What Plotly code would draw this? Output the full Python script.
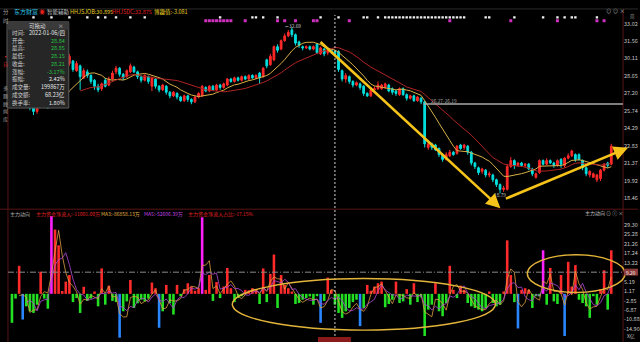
import plotly.graph_objects as go
import pandas as pd

W, H = 640, 342
def px(x): return x / W
def py(y): return 1 - y / H

# ---------------- data ----------------
opens = [27.2, 26.9, 26.6, 27.0, 27.4, 27.0, 26.2, 25.7, 26.2, 26.6,
         26.3, 26.1, 26.4, 27.0, 27.7, 28.4, 29.7, 29.9, 29.1, 29.5,
         28.5, 29.0, 28.7, 28.3, 27.8, 27.6, 28.3, 27.9, 28.4, 29.0,
         29.3, 28.8, 28.6, 29.0, 29.4, 29.0, 28.6, 28.3, 28.6, 27.8,
         28.4, 27.8, 27.5, 27.8, 27.3, 27.0, 27.2, 26.9, 26.6, 27.0,
         26.7, 26.5, 26.9, 27.0, 27.7, 27.4, 27.8, 27.5, 27.9, 27.7,
         27.9, 28.4, 28.2, 28.5, 28.3, 28.6, 28.4, 28.7, 28.5, 28.9,
         28.6, 30.0, 29.6, 30.0, 31.1, 30.9, 31.6, 32.0, 32.5, 32.1,
         31.5, 31.1, 31.0, 31.1, 30.9, 31.3, 30.5, 30.9, 30.6, 30.8,
         30.7, 30.7, 29.1, 28.4, 28.6, 28.2, 27.9, 28.0, 27.8, 27.2,
         27.0, 27.5, 27.6, 27.6, 27.7, 27.9, 27.6, 27.4, 27.1, 27.6,
         27.1, 26.8, 27.0, 26.6, 26.8, 26.5, 22.7, 23.0, 22.9, 22.6,
         22.1, 21.7, 22.0, 22.3, 22.2, 22.9, 22.7, 22.8, 22.3, 21.4,
         21.0, 20.7, 20.8, 20.4, 20.4, 20.0, 19.6, 19.2, 19.2, 21.1,
         21.6, 21.2, 21.4, 21.2, 21.3, 20.9, 20.2, 20.6, 21.6, 21.3,
         21.6, 21.4, 21.2, 21.7, 21.2, 21.8, 22.0, 22.1, 22.1, 21.6,
         21.0, 20.4, 20.2, 20.0, 20.1, 20.8, 21.4, 21.3]
closes = [26.9, 26.6, 26.8, 27.3, 27.1, 26.2, 25.7, 26.2, 26.6, 26.3,
          26.1, 26.4, 27.0, 27.7, 28.4, 29.1, 30.3, 29.2, 29.7, 28.6,
          29.1, 28.7, 28.2, 27.8, 27.5, 28.0, 27.8, 28.4, 28.9, 29.3,
          28.8, 28.5, 29.1, 29.5, 29.0, 28.6, 28.3, 28.7, 28.2, 28.5,
          27.8, 27.5, 27.9, 27.3, 27.0, 27.3, 26.9, 26.6, 27.0, 26.7,
          26.5, 26.9, 27.2, 27.8, 27.4, 27.8, 27.5, 27.9, 27.7, 28.0,
          28.4, 28.2, 28.5, 28.3, 28.6, 28.4, 28.7, 28.5, 28.7, 28.5,
          29.3, 29.5, 30.3, 31.1, 30.8, 31.6, 32.0, 32.3, 32.1, 31.4,
          31.2, 31.0, 31.1, 30.9, 31.1, 30.6, 31.0, 30.5, 30.8, 30.7,
          30.5, 29.2, 28.4, 28.7, 28.2, 27.9, 28.1, 27.7, 27.2, 27.0,
          27.5, 27.6, 27.9, 27.9, 28.0, 27.4, 27.3, 27.2, 27.6, 27.1,
          26.8, 27.0, 26.6, 26.9, 26.5, 23.0, 23.0, 22.7, 22.5, 22.1,
          21.7, 22.1, 22.3, 22.1, 22.8, 22.6, 22.9, 22.3, 21.4, 21.1,
          20.6, 20.9, 20.4, 20.5, 20.0, 19.6, 19.2, 19.3, 21.1, 21.6,
          21.2, 21.4, 21.2, 21.3, 20.9, 20.5, 20.5, 21.6, 21.3, 21.6,
          21.4, 21.2, 21.6, 21.3, 21.8, 22.0, 22.4, 21.7, 21.7, 21.0,
          20.5, 20.7, 20.5, 20.4, 20.8, 21.3, 21.2, 22.8]
highs = [27.3, 27.0, 26.9, 27.4, 27.5, 27.1, 26.4, 26.3, 26.8, 26.7,
         26.4, 26.5, 27.1, 27.8, 28.6, 29.3, 30.5, 30.0, 29.9, 29.6,
         29.3, 29.2, 28.8, 28.4, 28.0, 28.1, 28.5, 28.6, 29.1, 29.5,
         29.4, 28.9, 29.2, 29.7, 29.5, 29.1, 28.7, 28.8, 28.7, 28.6,
         28.5, 27.9, 28.0, 27.9, 27.4, 27.4, 27.3, 27.0, 27.1, 27.1,
         26.8, 27.0, 27.3, 27.9, 27.8, 27.9, 27.9, 28.0, 28.0, 28.1,
         28.5, 28.5, 28.6, 28.6, 28.7, 28.7, 28.8, 28.8, 28.8, 29.0,
         29.4, 30.1, 30.5, 31.2, 31.3, 31.7, 32.2, 32.5, 32.69, 32.2,
         31.6, 31.2, 31.2, 31.2, 31.2, 31.4, 31.1, 31.0, 30.9, 30.9,
         30.8, 30.8, 29.2, 28.9, 28.7, 28.3, 28.2, 28.1, 27.9, 27.3,
         27.6, 27.8, 28.2, 28.0, 28.1, 28.0, 27.7, 27.5, 27.7, 27.7,
         27.2, 27.1, 27.1, 27.0, 26.9, 26.6, 23.2, 23.1, 23.0, 22.7,
         22.2, 22.3, 22.5, 22.4, 22.9, 23.0, 23.0, 22.9, 22.4, 21.5,
         21.1, 21.0, 20.9, 20.7, 20.5, 20.1, 19.7, 19.5, 21.3, 21.9,
         21.7, 21.5, 21.5, 21.4, 21.4, 21.0, 20.6, 21.7, 21.7, 21.8,
         21.7, 21.5, 21.7, 21.8, 21.9, 22.2, 22.5, 22.2, 22.2, 21.7,
         21.1, 20.8, 20.6, 20.5, 20.9, 21.4, 21.5, 23.0]
lows = [26.7, 26.4, 26.5, 26.9, 27.0, 25.8, 25.4, 25.5, 26.0, 26.1,
        25.9, 26.0, 26.3, 26.9, 27.6, 28.3, 29.5, 29.0, 29.0, 27.5,
        28.4, 28.5, 28.0, 27.5, 27.3, 27.4, 27.7, 27.8, 28.3, 28.8,
        28.6, 28.3, 28.5, 28.9, 28.9, 28.4, 28.1, 28.2, 28.0, 27.4,
        27.6, 27.3, 27.4, 27.1, 26.8, 26.9, 26.7, 26.5, 26.5, 26.5,
        26.3, 26.4, 26.8, 26.9, 27.3, 27.3, 27.4, 27.4, 27.5, 27.6,
        27.8, 28.1, 28.1, 28.2, 28.2, 28.3, 28.3, 28.4, 28.4, 28.0,
        28.5, 29.3, 29.5, 29.9, 30.6, 30.8, 31.5, 31.9, 31.9, 31.2,
        31.0, 30.8, 30.9, 30.8, 30.8, 30.5, 30.4, 30.3, 30.4, 30.5,
        30.3, 29.0, 28.2, 28.1, 28.0, 27.7, 27.8, 27.5, 27.0, 26.9,
        26.9, 27.4, 27.5, 27.5, 27.6, 27.3, 27.1, 27.0, 27.0, 27.0,
        26.6, 26.7, 26.5, 26.5, 26.3, 22.7, 22.5, 22.5, 22.4, 21.9,
        21.5, 21.6, 21.9, 22.0, 22.1, 22.5, 22.5, 22.1, 21.2, 20.9,
        20.4, 20.5, 20.2, 20.2, 19.8, 19.4, 18.87, 19.0, 19.1, 21.0,
        20.9, 21.1, 21.1, 21.0, 20.8, 20.3, 20.1, 20.5, 21.2, 21.2,
        21.3, 21.0, 21.1, 21.0, 21.0, 21.7, 21.9, 21.5, 21.6, 20.8,
        20.3, 20.2, 20.2, 19.8, 19.9, 20.7, 21.0, 21.2]

flow = [-12.3, -2.0, 11.9, -10.9, -5.3, -7.4, -8.1, -4.6, 9.4, -2.0,
        -6.3, 33.0, 27.3, 20.6, 1.2, 5.2, 8.0, -3.5, -1.8, -8.1,
        3.0, -3.0, -2.0, 1.0, -5.3, 10.8, -4.6, 3.5, -3.0, -3.5,
        -18.6, -7.4, -3.2, 5.9, -6.0, -4.0, -2.5, -3.2, -2.0, 4.8,
        2.4, -14.4, -7.4, 3.8, -4.0, -8.8, 3.8, -1.0, 2.0, 4.5,
        3.1, 1.3, 2.4, 32.5, 1.7, 8.0, -3.0, 5.0, -1.8, 3.1,
        11.0, 2.4, -3.5, -1.8, -1.0, 1.7, 1.5, 2.4, 1.7, -4.3,
        10.8, -3.5, 8.5, 16.7, -6.0, 8.0, 3.8, 2.4, 1.0, -4.3,
        -3.9, -2.5, -1.8, -1.1, -4.6, -1.0, -12.3, -3.0, 6.9, 1.7,
        -4.6, -8.1, -10.2, -7.4, -6.0, -3.5, -2.5, -13.7, -6.0, 3.8,
        1.3, 3.1, 4.5, 5.2, -5.7, -4.3, -2.5, 5.2, -3.9, -3.2,
        2.0, -4.6, 4.5, -3.5, -1.5, -17.9, -6.7, -4.6, 4.5, -7.4,
        -9.5, -3.9, 11.9, 1.7, -1.8, 3.5, 1.7, -3.9, -5.3, -6.0,
        -6.7, -7.4, -6.0, 1.0, -3.9, -5.3, -4.6, 1.0, 22.7, 8.0,
        -3.5, -14.7, 1.7, 2.4, 1.7, -6.0, -1.0, -1.1, 18.5, -4.6,
        11.0, -3.2, -4.3, 8.0, -17.9, 13.6, 3.1, 12.2, -2.5, -3.9,
        -5.3, -10.2, -1.0, -4.6, 2.0, 10.0, -6.7, 18.5]
super_in_days = [11, 53, 148]
super_out_days = [3, 30, 41, 86, 97, 141, 154]

white_sig = [6, 11, 16, 21, 24, 26, 29, 33, 37, 58, 67, 68, 70, 74, 86, 91, 98, 99, 102,
             104, 105, 106, 107, 108, 109, 110, 111, 112, 113, 114, 115, 116, 117, 118, 119,
             120, 121, 122, 123, 124, 125, 126, 132, 133, 140, 148, 152, 154, 156, 157, 163]
magenta_sig = [54, 55, 56, 57, 58, 59, 60, 61, 65, 74, 76, 79, 84, 85, 94, 122, 139, 152, 163, 165]

price_ticks = [33.02, 31.56, 30.11, 28.65, 27.20, 25.74, 24.29, 22.83, 21.37, 19.92, 18.46]
flow_ticks = [29.30, 25.28, 21.26, 17.24, 13.22, 9.20, 5.19, 1.17, -2.85, -6.87, -10.88, -14.90]
flow_marker_value = 9.20

info_rows = [("时间:", "2022-01-06/四", "#e8e8e8"), ("开盘:", "28.84", "#22c040"),
             ("最高:", "28.85", "#22c040"), ("最低:", "28.15", "#22c040"),
             ("收盘:", "28.21", "#22c040"), ("涨幅:", "-3.17%", "#22c040"),
             ("振幅:", "2.42%", "#e8e8e8"), ("成交量:", "199867万", "#e8e8e8"),
             ("成交额:", "68.23亿", "#e8e8e8"), ("换手率:", "1.80%", "#e8e8e8")]

# ---------------- derived ----------------
N = len(closes)
idx = list(range(N))
ma10 = pd.Series(closes).rolling(10).mean()
ma20 = pd.Series(closes).rolling(20).mean()
ma3 = pd.Series(flow).rolling(3).mean()
ma5 = pd.Series(flow).rolling(5).mean()

RED = "#ff2a2a"
CYAN = "#00dede"
GREEN = "#22e022"
MAG = "#ff20ff"
BLUE = "#2a86ff"
bar_colors = []
for i, v in enumerate(flow):
    if i in super_in_days:
        bar_colors.append(MAG)
    elif i in super_out_days:
        bar_colors.append(BLUE)
    elif v >= 0:
        bar_colors.append(RED)
    else:
        bar_colors.append(GREEN)

X0, X1 = -1.11, 170.28
TRANSP = "rgba(0,0,0,0)"

fig = go.Figure()
fig.add_trace(go.Candlestick(
    x=idx, open=opens, high=highs, low=lows, close=closes,
    increasing=dict(line=dict(color=RED, width=1), fillcolor=RED),
    decreasing=dict(line=dict(color=CYAN, width=1), fillcolor=CYAN),
    whiskerwidth=0, xaxis="x", yaxis="y", hoverinfo="skip"))
fig.add_trace(go.Scatter(x=idx, y=ma10, mode="lines", line=dict(color="#d9b048", width=1),
                         xaxis="x", yaxis="y", hoverinfo="skip"))
fig.add_trace(go.Scatter(x=idx, y=ma20, mode="lines", line=dict(color="#b02424", width=1),
                         xaxis="x", yaxis="y", hoverinfo="skip"))

fig.add_trace(go.Bar(x=idx, y=flow, marker=dict(color=bar_colors, line=dict(width=0)),
                     width=0.72, xaxis="x2", yaxis="y2", hoverinfo="skip"))
fig.add_trace(go.Scatter(x=idx, y=ma3, mode="lines", line=dict(color="#e0a040", width=0.8),
                         xaxis="x2", yaxis="y2", hoverinfo="skip"))
fig.add_trace(go.Scatter(x=idx, y=ma5, mode="lines", line=dict(color="#b048d8", width=0.8),
                         xaxis="x2", yaxis="y2", hoverinfo="skip"))

fig.add_trace(go.Scatter(x=white_sig, y=[0.55] * len(white_sig), mode="markers",
                         marker=dict(color="#f0f0f0", size=2.4, symbol="square"),
                         xaxis="x3", yaxis="y3", hoverinfo="skip"))
fig.add_trace(go.Scatter(x=magenta_sig, y=[0.2] * len(magenta_sig), mode="markers",
                         marker=dict(color="#d030c0", size=3, symbol="square"),
                         xaxis="x3", yaxis="y3", hoverinfo="skip"))

axcommon = dict(domain=[px(8), px(625)], range=[X0, X1], visible=False, fixedrange=True)
shown_flow_ticks = [v for v in flow_ticks if v != flow_marker_value]
fig.update_layout(
    width=W, height=H, margin=dict(l=0, r=0, t=0, b=0),
    paper_bgcolor="#000000", plot_bgcolor=TRANSP, showlegend=False, hovermode=False,
    font=dict(family="Noto Sans CJK SC, DejaVu Sans", color="#c8c8c8", size=6),
    xaxis=dict(**axcommon, anchor="y", rangeslider=dict(visible=False)),
    xaxis2=dict(**axcommon, anchor="y2"),
    xaxis3=dict(**axcommon, anchor="y3"),
    xaxis4=dict(domain=[0, 1], range=[0, 640], visible=False, anchor="y4"),
    yaxis=dict(domain=[py(207), py(20)], range=[17.63, 33.09], side="right", anchor="x",
               tickvals=price_ticks, ticktext=[f"{v:.2f}" for v in price_ticks],
               tickfont=dict(size=5.5, color="#c8c8c8"), showgrid=False, zeroline=False,
               ticks="", showline=False),
    yaxis2=dict(domain=[py(340), py(215)], range=[-19.6, 33.0], side="right", anchor="x2",
                tickvals=shown_flow_ticks, ticktext=[f"{v:.2f}" for v in shown_flow_ticks],
                tickfont=dict(size=5.5, color="#c8c8c8"), showgrid=False, zeroline=False,
                ticks="", showline=False),
    yaxis3=dict(domain=[py(20), py(10)], range=[0, 1], visible=False, anchor="x3"),
    yaxis4=dict(domain=[0, 1], range=[342, 0], visible=False, anchor="x4"),
)

shapes = []
FR = "#5a1414"
shapes += [
    dict(type="line", xref="paper", yref="paper", x0=px(8), x1=px(8), y0=py(342), y1=py(20), line=dict(color=FR, width=1)),
    dict(type="line", xref="paper", yref="paper", x0=px(625), x1=px(625), y0=py(342), y1=py(6), line=dict(color=FR, width=1)),
    dict(type="line", xref="paper", yref="paper", x0=0, x1=1, y0=py(208), y1=py(208), line=dict(color=FR, width=1)),
    dict(type="line", xref="paper", yref="paper", x0=0, x1=1, y0=py(6), y1=py(6), line=dict(color="#2a2a2a", width=1)),
    dict(type="line", xref="x", yref="paper", x0=90, x1=90, y0=py(340), y1=py(12),
         line=dict(color="#d0d0d0", width=1, dash="2px,2px")),
    dict(type="line", xref="paper", yref="y2", x0=px(8), x1=px(625), y0=flow_marker_value, y1=flow_marker_value,
         line=dict(color="#8a8a8a", width=1, dash="6px,2px,1px,2px")),
    dict(type="line", xref="x", yref="y", x0=114.7, x1=X1, y0=26.31, y1=26.31,
         line=dict(color="#a8a8a8", width=1.5)),
    dict(type="circle", xref="paper", yref="paper", x0=px(233), x1=px(497), y0=py(330), y1=py(278),
         line=dict(color="#e3b43a", width=1.4)),
    dict(type="circle", xref="paper", yref="paper", x0=px(529), x1=px(627), y0=py(292), y1=py(254),
         line=dict(color="#e3b43a", width=1.4)),
    dict(type="rect", xref="paper", yref="paper", x0=px(7), x1=px(69), y0=py(106), y1=py(19),
         fillcolor="#262626", line=dict(color="#5a5a5a", width=1)),
    dict(type="rect", xref="paper", yref="paper", x0=px(7), x1=px(69), y0=py(27), y1=py(19),
         fillcolor="#3a3a3a", line=dict(width=0)),
    dict(type="rect", xref="paper", yref="paper", x0=px(626), x1=px(640), y0=py(275), y1=py(268),
         fillcolor="#8a3a3a", line=dict(width=0)),
    dict(type="rect", xref="paper", yref="paper", x0=px(319), x1=px(352), y0=py(342), y1=py(337),
         fillcolor="#8a1a1a", line=dict(width=0)),
]
fig.update_layout(shapes=shapes)

ann = []
def T(x, y, s, color="#c8c8c8", size=6, anchor="left"):
    ann.append(dict(x=px(x), y=py(y), xref="paper", yref="paper", text=s, showarrow=False,
                    xanchor=anchor, yanchor="middle", font=dict(size=size, color=color)))

T(1, 9, "分", "#a0a0a0", 5.5)
T(1, 18, "时", "#a0a0a0", 5.5)
T(12, 9, "东方财富", "#30c8e8", 6)
T(37, 9, "◉", "#e02020", 6)
T(45, 9, "智能辅助", "#c8c8c8", 5.5)
T(68, 9, "HHJSJOB:30.895", "#e8d020", 5.5)
T(110, 9, "HHJSDC:32.875", "#e02020", 5.5)
T(152, 9, "博趣值:-3.081", "#e8d020", 5.5)
T(606, 8, "⊙ ⊙ ×", "#b0b0b0", 5.5)
T(630, 14, "简", "#909090", 4.5)
T(1, 53, "▪", "#d02020", 5)
T(1, 62, "自", "#d02020", 5)
for k, ch in enumerate(["多", "题", "顾", "闻", "库"]):
    T(1, 86 + k * 7.8, ch, "#a0a0a0", 5)
T(38, 23, "可拖动", "#d8d8d8", 5.5, "center")
T(66, 23, "×", "#c0c0c0", 5.5, "right")
for k, (lab, val, col) in enumerate(info_rows):
    yy = 30 + k * 7.85
    T(10, yy, lab, "#d0d0d0", 5.5)
    T(67.5, yy, val, col, 5.5, "right")
T(284, 23, "⌐32.69", "#d0d0d0", 4.8)
T(494, 193, "18.79", "#c0c0c0", 4.8)
T(430, 98.5, "26.27-26.19", "#a8a8a8", 4.8)
T(8, 213, "主力动向", "#b0b0b0", 5)
T(34, 213, "主力资金净流入:-11001.00万", "#e02020", 5)
T(99, 213, "MA3:-86858.13万", "#e0b040", 5)
T(142, 213, "MA5:-52606.39万", "#c040e0", 5)
T(187, 213, "主力资金净流入占比:-17.15%", "#e02020", 5)
T(585, 212, "主力动向 ⊙ ⓘ ×", "#c0c0c0", 5)
T(633, 271.5, f"{flow_marker_value:.2f}", "#ffffff", 4.8, "center")
T(627, 336, "X亿", "#c0c0c0", 5)

for (hx, hy, tx, ty) in [(502, 207, 320, 38), (630, 146, 506, 198)]:
    ann.append(dict(x=hx, y=hy, ax=tx, ay=ty, xref="x4", yref="y4", axref="x4", ayref="y4",
                    showarrow=True, arrowhead=2, arrowsize=1.1, arrowwidth=2.6,
                    arrowcolor="#f6c31a", text=""))
fig.update_layout(annotations=ann)

fig.write_html("out.html")
